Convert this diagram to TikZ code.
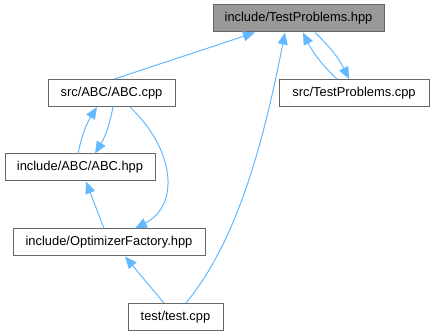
\documentclass[tikz,border=0pt]{standalone}
\usepackage{fontspec}
\setmainfont{Liberation Sans}
\usetikzlibrary{arrows.meta}
\definecolor{incblue}{HTML}{63B8FF}

\begin{document}
\begin{tikzpicture}[x=1pt,y=-1pt,
  >={Triangle[length=12pt,width=10pt]},
  file/.style={draw=black!60,fill=white,line width=1pt,minimum height=27pt,inner sep=0pt,font=\fontsize{12.9}{15}\selectfont},
  this/.style={file,fill=black!40},
  inc/.style={color=incblue,line width=1pt,->}]
\useasboundingbox (0,0) rectangle (434,336);
% files
\node[this,minimum width=171pt] (hpp) at (298.5,18.5) {include/TestProblems.hpp};
\node[file,minimum width=150pt] (tpcpp) at (354,93) {src/TestProblems.cpp};
\node[file,minimum width=127pt] (abccpp) at (111.5,93) {src/ABC/ABC.cpp};
\node[file,minimum width=150pt] (abchpp) at (80,167.5) {include/ABC/ABC.hpp};
\node[file,minimum width=192pt] (opt) at (109,242.5) {include/OptimizerFactory.hpp};
\node[file,minimum width=95pt] (test) at (175.5,317) {test/test.cpp};
% includes
\draw[inc] ([xshift=3pt]abccpp.north) -- ([xshift=-43.5pt]hpp.south);
\draw[inc] ([xshift=10.5pt]test.north) .. controls (238,240) and (264,140) .. ([xshift=-13.5pt]hpp.south);
\draw[inc] ([xshift=-17pt]tpcpp.north) to[bend left=10] ([xshift=4.5pt]hpp.south);
\draw[inc] ([xshift=16.5pt]hpp.south) to[bend left=10] ([xshift=-5pt]tpcpp.north);
\draw[inc] ([xshift=-2pt]abchpp.north) to[bend left=10] ([xshift=-14.5pt]abccpp.south);
\draw[inc] ([xshift=1.5pt]abccpp.south) to[bend left=10] ([xshift=15pt]abchpp.north);
\draw[inc] ([xshift=18.5pt]abccpp.south) .. controls (175,150) and (180,205) .. ([xshift=26pt]opt.north);
\draw[inc] ([xshift=-5pt]opt.north) -- ([xshift=6pt]abchpp.south);
\draw[inc] ([xshift=-11.5pt]test.north) -- ([xshift=16pt]opt.south);
\end{tikzpicture}
\end{document}
